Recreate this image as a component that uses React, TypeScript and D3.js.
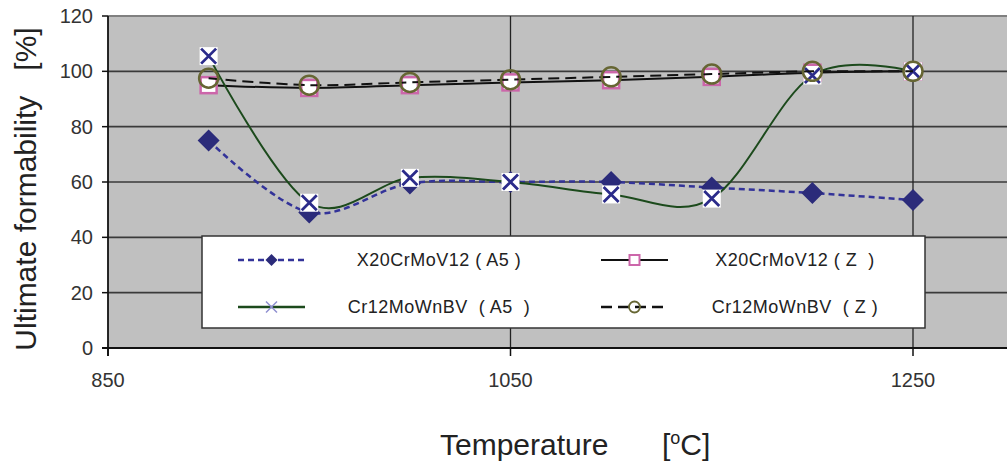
import React, { useRef, useEffect } from 'react';
import * as d3 from 'd3';

// temperatures (oC) and ultimate formability (%)
const temps = [900, 950, 1000, 1050, 1100, 1150, 1200, 1250];
const x20A5 = [75, 49, 59.5, 60, 60, 58, 56, 53.5];
const x20Z = [95, 94, 95, 96, 96.8, 98, 99.5, 100];
const crA5 = [105.5, 52.5, 61.5, 60, 55.5, 54, 98.5, 100];
const crZ = [97.5, 95, 96, 97, 98, 99, 100, 100];

const yTicks = [0, 20, 40, 60, 80, 100, 120];
const xTicks = [850, 1050, 1250];
const legendNames = ['X20CrMoV12 ( A5 )', 'X20CrMoV12 ( Z  )', 'Cr12MoWnBV  ( A5  )', 'Cr12MoWnBV  ( Z )'];

const W = 1007, H = 462;
const left = 108, top = 16, bottom = 348;

const App = () => {
    const ref = useRef(null);

    useEffect(() => {
        const svg = d3.select(ref.current);
        svg.selectAll('*').remove();

        const x = d3.scaleLinear().domain([850, 1300]).range([left, left + 450 * 2.0125]);
        const y = d3.scaleLinear().domain([0, 120]).range([bottom, top]);

        // plot area
        svg.append('rect')
            .attr('x', left).attr('y', top)
            .attr('width', W - left).attr('height', bottom - top)
            .style('fill', '#c0c0c0');
        svg.append('line')
            .attr('x1', left).attr('x2', W).attr('y1', y(120)).attr('y2', y(120))
            .style('stroke', '#808080').style('stroke-width', 2);

        // grid
        svg.selectAll('.hgrid')
            .data(yTicks.filter(d => d > 0 && d < 120))
            .enter().append('line')
            .attr('x1', left).attr('x2', W)
            .attr('y1', d => y(d)).attr('y2', d => y(d))
            .style('stroke', '#3a3a3a').style('stroke-width', 1.6);
        svg.selectAll('.vgrid')
            .data(xTicks.slice(1))
            .enter().append('line')
            .attr('x1', d => x(d)).attr('x2', d => x(d))
            .attr('y1', top).attr('y2', bottom)
            .style('stroke', '#222').style('stroke-width', 1.3);

        // axes
        svg.append('line').attr('x1', left).attr('x2', left).attr('y1', top).attr('y2', bottom + 8)
            .style('stroke', '#111').style('stroke-width', 1.8);
        svg.append('line').attr('x1', left - 6).attr('x2', W).attr('y1', bottom).attr('y2', bottom)
            .style('stroke', '#111').style('stroke-width', 2);
        svg.selectAll('.ytick').data(yTicks).enter().append('line')
            .attr('x1', left - 6).attr('x2', left).attr('y1', d => y(d)).attr('y2', d => y(d))
            .style('stroke', '#111').style('stroke-width', 1.5);
        svg.selectAll('.xtick').data(xTicks).enter().append('line')
            .attr('x1', d => x(d)).attr('x2', d => x(d)).attr('y1', bottom).attr('y2', bottom + 8)
            .style('stroke', '#111').style('stroke-width', 1.5);

        svg.selectAll('.ylab').data(yTicks).enter().append('text')
            .attr('x', 93).attr('y', d => y(d) + 7)
            .attr('text-anchor', 'end')
            .style('font-family', 'Liberation Sans, Arial, sans-serif')
            .style('font-size', '20px').style('fill', '#333')
            .text(d => d);
        svg.selectAll('.xlab').data(xTicks).enter().append('text')
            .attr('x', d => x(d)).attr('y', 387)
            .attr('text-anchor', 'middle')
            .style('font-family', 'Liberation Sans, Arial, sans-serif')
            .style('font-size', '20px').style('fill', '#333')
            .text(d => d);

        // titles
        svg.append('text')
            .attr('transform', 'translate(36,189) rotate(-90)')
            .attr('text-anchor', 'middle')
            .style('font-family', 'Liberation Sans, Arial, sans-serif')
            .style('font-size', '30px').style('fill', '#222')
            .style('white-space', 'pre')
            .text('Ultimate formability   [%]');
        const tt = svg.append('text')
            .attr('x', 440).attr('y', 455)
            .style('font-family', 'Liberation Sans, Arial, sans-serif')
            .style('font-size', '30px').style('fill', '#222');
        tt.append('tspan').text('Temperature');
        tt.append('tspan').attr('x', 662).text('[');
        tt.append('tspan').attr('dy', -11).style('font-size', '18px').text('o');
        tt.append('tspan').attr('dy', 11).text('C]');

        // series
        const line = d3.line<number>()
            .x((d, i) => x(temps[i]))
            .y(d => y(d))
            .curve(d3.curveCardinal.tension(0));

        const diamond = (g, cx, cy, r) => g.append('path')
            .attr('d', `M${cx},${cy - r}L${cx + r},${cy}L${cx},${cy + r}L${cx - r},${cy}Z`)
            .style('fill', '#2b2b7a');
        const square = (g, cx, cy, s, sw) => g.append('rect')
            .attr('x', cx - s / 2).attr('y', cy - s / 2).attr('width', s).attr('height', s)
            .style('fill', 'white').style('stroke', '#cc66aa').style('stroke-width', sw);
        const cross = (g, cx, cy, r, color, sw, bg) => {
            if (bg) g.append('rect').attr('x', cx - 9).attr('y', cy - 9).attr('width', 18).attr('height', 18).style('fill', 'white');
            g.append('path')
                .attr('d', `M${cx - r},${cy - r}L${cx + r},${cy + r}M${cx - r},${cy + r}L${cx + r},${cy - r}`)
                .style('stroke', color).style('stroke-width', sw);
        };
        const ring = (g, cx, cy, r, sw) => g.append('circle')
            .attr('cx', cx).attr('cy', cy).attr('r', r)
            .style('fill', 'none').style('stroke', '#666633').style('stroke-width', sw);

        const g1 = svg.append('g');
        g1.append('path').attr('d', line(x20A5))
            .style('fill', 'none').style('stroke', '#333399').style('stroke-width', 2.5).style('stroke-dasharray', '6,4');
        x20A5.forEach((d, i) => diamond(g1, x(temps[i]), y(d), 11));

        const g2 = svg.append('g');
        g2.append('path').attr('d', line(x20Z))
            .style('fill', 'none').style('stroke', '#111').style('stroke-width', 2);
        x20Z.forEach((d, i) => square(g2, x(temps[i]), y(d), 16, 2.5));

        const g3 = svg.append('g');
        g3.append('path').attr('d', line(crA5))
            .style('fill', 'none').style('stroke', '#1c4a1c').style('stroke-width', 2);
        crA5.forEach((d, i) => cross(g3, x(temps[i]), y(d), 7.5, '#2b2b8a', 2.8, true));

        const g4 = svg.append('g');
        g4.append('path').attr('d', line(crZ))
            .style('fill', 'none').style('stroke', '#111').style('stroke-width', 2).style('stroke-dasharray', '11,6');
        crZ.forEach((d, i) => ring(g4, x(temps[i]), y(d), 9.5, 2.5));

        // legend
        const lg = svg.append('g');
        lg.append('rect')
            .attr('x', 202).attr('y', 236).attr('width', 723).attr('height', 92)
            .style('fill', 'white').style('stroke', '#333').style('stroke-width', 1.5);
        const rows = [260, 307];
        const cols = [[238, 305, 439], [601, 668, 795]];
        const styles = [
            { stroke: '#333399', dash: '6,4', w: 2.5 },
            { stroke: '#111', dash: null, w: 2 },
            { stroke: '#1c4a1c', dash: null, w: 2.5 },
            { stroke: '#111', dash: '11,6', w: 2.5 },
        ];
        legendNames.forEach((name, k) => {
            const c = cols[k % 2];
            const ry = rows[Math.floor(k / 2)];
            const st = styles[k];
            lg.append('line')
                .attr('x1', c[0]).attr('x2', c[1]).attr('y1', ry).attr('y2', ry)
                .style('stroke', st.stroke).style('stroke-width', st.w)
                .style('stroke-dasharray', st.dash);
            const mx = (c[0] + c[1]) / 2;
            if (k === 0) diamond(lg, mx, ry, 6);
            if (k === 1) square(lg, mx, ry, 10, 2);
            if (k === 2) cross(lg, mx, ry, 5.5, '#9090d0', 1.5, false);
            if (k === 3) ring(lg, mx, ry, 5.5, 1.8);
            lg.append('text')
                .attr('x', c[2]).attr('y', ry + 6)
                .attr('text-anchor', 'middle')
                .style('font-family', 'Liberation Sans, Arial, sans-serif')
                .style('font-size', '18px').style('fill', '#222')
                .style('white-space', 'pre')
                .style('letter-spacing', '0.5px')
                .text(name);
        });
    }, []);

    return (
        <svg width={W} height={H} style={{ position: 'absolute', left: 0, top: 0, background: 'white' }}>
            <g ref={ref}></g>
        </svg>
    );
};

export default App;
